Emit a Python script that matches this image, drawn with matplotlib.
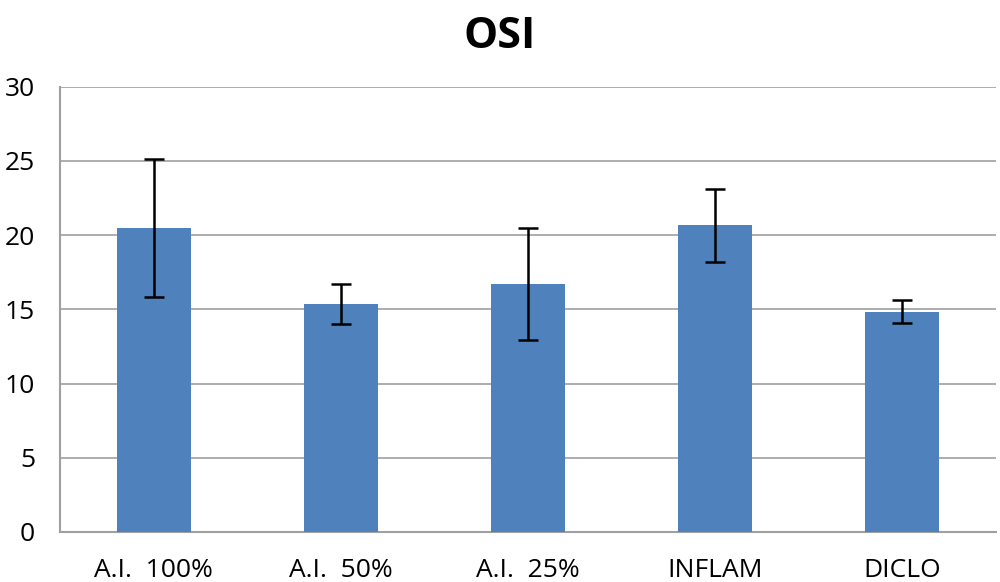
import matplotlib
matplotlib.use('Agg')
import matplotlib.pyplot as plt
import numpy as np

# Data
categories = ['A.I.  100%', 'A.I.  50%', 'A.I.  25%', 'INFLAM', 'DICLO']
means = [20.5, 15.35, 16.7, 20.65, 14.85]
errors = [4.65, 1.33, 3.8, 2.43, 0.78]
yticks = [0, 5, 10, 15, 20, 25, 30]

plt.rcParams['font.family'] = ['Open Sans', 'DejaVu Sans']

fig = plt.figure(figsize=(10, 5.82), dpi=100)
ax = fig.add_axes([0.06, 0.086, 0.936, 0.765])

x = np.arange(len(categories))
ax.bar(x, means, width=0.396, color='#4F81BD', zorder=3)
ax.errorbar(x, means, yerr=errors, fmt='none', ecolor='black',
            elinewidth=1.8, capsize=7, capthick=1.8, zorder=4)

ax.set_ylim(0, 30)
ax.set_xlim(-0.5, len(categories) - 0.5)
ax.set_yticks(yticks)
ax.set_xticks(x)
ax.set_xticklabels(categories)
ax.tick_params(axis='both', length=0, labelsize=19)
ax.tick_params(axis='x', pad=19)
ax.tick_params(axis='y', pad=18)
ax.grid(axis='y', color='#A0A0A0', linewidth=1.2, zorder=0)

for side in ['top', 'right']:
    ax.spines[side].set_visible(False)
ax.spines['left'].set_color('#A0A0A0')
ax.spines['bottom'].set_color('#A0A0A0')
ax.spines['left'].set_linewidth(1.5)
ax.spines['bottom'].set_linewidth(1.5)

fig.suptitle('OSI', fontsize=31, fontweight='bold', y=0.975)

fig.savefig('out.png', dpi=100)
